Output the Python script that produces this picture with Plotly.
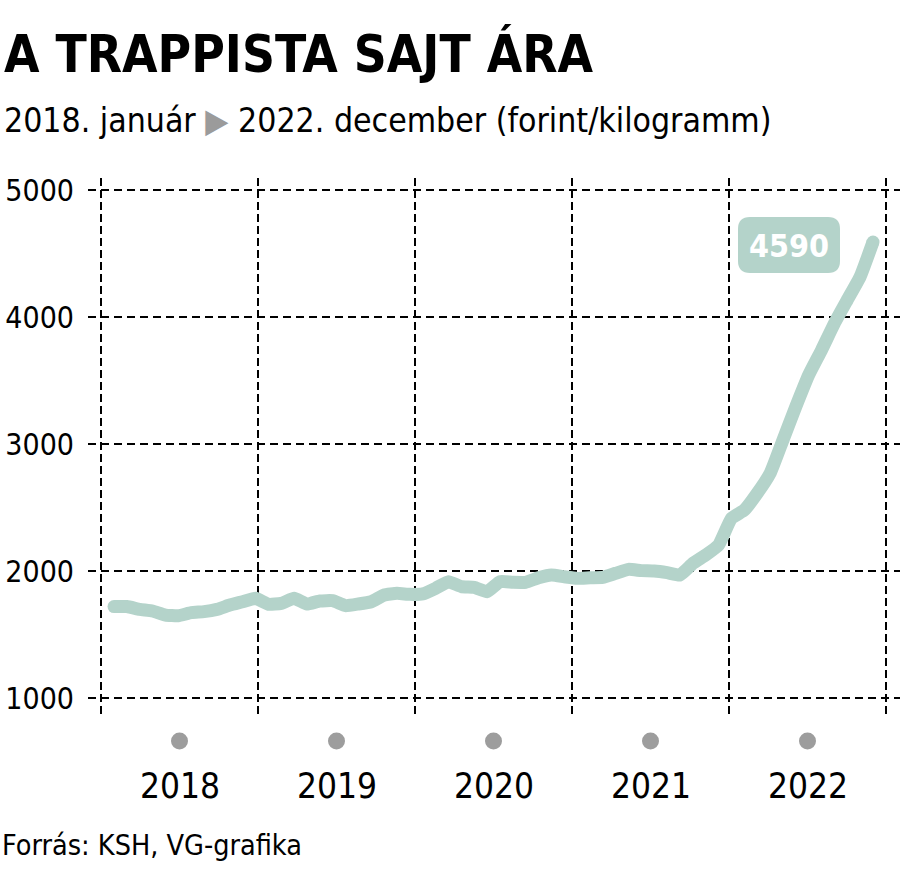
import plotly.graph_objects as go

# ---- data ----
years = ["2018", "2019", "2020", "2021", "2022"]
prices = [
    1720, 1720, 1698, 1685, 1653, 1648, 1672, 1680, 1698, 1732, 1758, 1785,   # 2018
    1738, 1745, 1785, 1740, 1764, 1766, 1727, 1740, 1758, 1811, 1824, 1816,   # 2019
    1820, 1864, 1916, 1877, 1871, 1837, 1916, 1911, 1911, 1947, 1969, 1955,   # 2020
    1942, 1947, 1950, 1982, 2013, 2003, 2000, 1987, 1969, 2060, 2126, 2205,   # 2021
    2415, 2480, 2612, 2769, 3031, 3294, 3543, 3740, 3950, 4134, 4317, 4590,   # 2022
]
y_ticks = [1000, 2000, 3000, 4000, 5000]

title = "A TRAPPISTA SAJT ÁRA"
subtitle = "2018. január <span style='color:#9b9b9b'>▶</span> 2022. december (forint/kilogramm)"
source = "Forrás: KSH, VG-grafika"

LINE = "#b4d3ca"
DOT = "#9d9d9d"
FONT = "DejaVu Sans Condensed, Liberation Sans Narrow, sans-serif"

W, H = 900, 882
L, R, T, B = 88, 0, 178, 164
PW, PH = W - L - R, H - T - B

month_idx = list(range(len(prices)))

fig = go.Figure()
fig.add_trace(go.Scatter(
    x=month_idx, y=prices, mode="lines",
    line=dict(color=LINE, width=13, shape="spline", smoothing=0.4),
    hoverinfo="skip", showlegend=False,
))
# round caps at ends
fig.add_trace(go.Scatter(
    x=[month_idx[0], month_idx[-1]], y=[prices[0], prices[-1]], mode="markers",
    marker=dict(color=LINE, size=13), hoverinfo="skip", showlegend=False,
))
# invisible trace to activate the year axis
fig.add_trace(go.Scatter(x=[0, len(years)], y=[None, None], xaxis="x2",
                         mode="lines", showlegend=False, hoverinfo="skip"))

# axis ranges chosen so the layout matches the reference pixels
first_px, last_px = 114, 873
step = (last_px - first_px) / (len(prices) - 1)
x_range = [-(first_px - L) / step, (len(prices) - 1) + (W - R - last_px) / step]
yr0_px, yr5_px = 101, 886
ystep = (yr5_px - yr0_px) / len(years)
x2_range = [-(yr0_px - L) / ystep, len(years) + (W - R - yr5_px) / ystep]
y_range = [1000 - (718 - 698) / 127 * 1000, 5000 + (190 - 178) / 127 * 1000]

fig.update_layout(
    width=W, height=H,
    margin=dict(l=L, r=R, t=T, b=B, pad=0, autoexpand=False),
    paper_bgcolor="white", plot_bgcolor="white",
    font=dict(family=FONT, color="black"),
    xaxis=dict(range=x_range, showgrid=False, showticklabels=False, automargin=False,
               zeroline=False, showline=False, fixedrange=True),
    xaxis2=dict(range=x2_range, overlaying="x", tickvals=list(range(len(years) + 1)),
                showgrid=True, gridcolor="black", gridwidth=1.5, griddash="8px,4px",
                showticklabels=False, zeroline=False, showline=False, ticks="",
                automargin=False),
    yaxis=dict(range=y_range, tickvals=y_ticks, ticktext=[str(v) for v in y_ticks],
               showgrid=True, gridcolor="black", gridwidth=1.5, griddash="8px,5px",
               zeroline=False, showline=False, ticks="", automargin=False,
               ticklabelstandoff=13,
               tickfont=dict(family=FONT, size=30, color="black")),
)

shapes = []
annotations = []
# year dots and labels
for k, yr in enumerate(years):
    shapes.append(dict(type="circle", xref="x2", yref="paper",
                       xsizemode="pixel", ysizemode="pixel",
                       xanchor=k + 0.5, yanchor=(718 - 741) / PH,
                       x0=-8.5, x1=8.5, y0=-8.5, y1=8.5,
                       fillcolor=DOT, line=dict(width=0)))
    annotations.append(dict(text=yr, xref="x2", yref="paper", x=k + 0.5,
                            y=(718 - 786) / PH, xanchor="center", yanchor="middle",
                            showarrow=False, font=dict(size=35, family=FONT)))


def px(xp):
    return (xp - L) / PW


def py(yp):
    return (H - B - yp) / PH


# value badge with rounded corners
bx0, bx1, by0, by1, r = 738, 840, 217, 273, 12
path = (f"M {px(bx0 + r)},{py(by0)} L {px(bx1 - r)},{py(by0)} "
        f"Q {px(bx1)},{py(by0)} {px(bx1)},{py(by0 + r)} "
        f"L {px(bx1)},{py(by1 - r)} Q {px(bx1)},{py(by1)} {px(bx1 - r)},{py(by1)} "
        f"L {px(bx0 + r)},{py(by1)} Q {px(bx0)},{py(by1)} {px(bx0)},{py(by1 - r)} "
        f"L {px(bx0)},{py(by0 + r)} Q {px(bx0)},{py(by0)} {px(bx0 + r)},{py(by0)} Z")
shapes.append(dict(type="path", xref="paper", yref="paper", path=path,
                   fillcolor=LINE, line=dict(width=0), layer="above"))
annotations.append(dict(text=f"<b>{prices[-1]}</b>", xref="paper", yref="paper",
                        x=px((bx0 + bx1) / 2), y=py((by0 + by1) / 2 + 1),
                        xanchor="center", yanchor="middle", showarrow=False,
                        font=dict(size=32, color="white", family=FONT)))

# title, subtitle, source
annotations.append(dict(text=f"<b>{title}</b>", xref="paper", yref="paper",
                        x=px(2), y=py(54), xanchor="left", yanchor="middle",
                        showarrow=False, font=dict(size=51, family=FONT)))
annotations.append(dict(text=subtitle, xref="paper", yref="paper",
                        x=px(2), y=py(120), xanchor="left", yanchor="middle",
                        showarrow=False, font=dict(size=33.5, family=FONT)))
annotations.append(dict(text=source, xref="paper", yref="paper",
                        x=px(0), y=py(845), xanchor="left", yanchor="middle",
                        showarrow=False, font=dict(size=28.5, family=FONT)))

fig.update_layout(shapes=shapes, annotations=annotations)
fig.write_html("out.html")
